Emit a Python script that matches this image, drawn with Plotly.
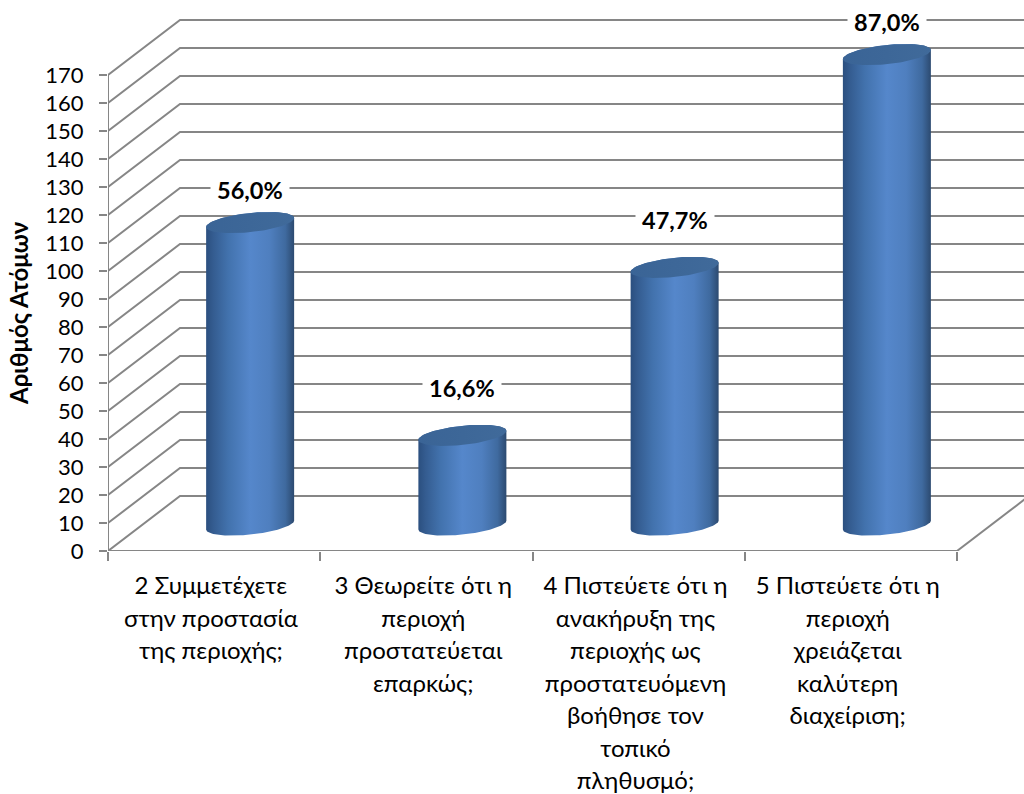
import numpy as np
import plotly.graph_objects as go

categories = [
    "2 Συμμετέχετε<br>στην προστασία<br>της περιοχής;",
    "3 Θεωρείτε ότι η<br>περιοχή<br>προστατεύεται<br>επαρκώς;",
    "4 Πιστεύετε ότι η<br>ανακήρυξη της<br>περιοχής ως<br>προστατευόμενη<br>βοήθησε τον<br>τοπικό<br>πληθυσμό;",
    "5 Πιστεύετε ότι η<br>περιοχή<br>χρειάζεται<br>καλύτερη<br>διαχείριση;",
]
values = [108, 32, 92, 168]
percent_labels = ["56,0%", "16,6%", "47,7%", "87,0%"]
y_ticks = list(range(0, 180, 10))
y_title = "Αριθμός Ατόμων"

W, H = 1024, 794
ML, MB = 108, 243
CAT_PX = 212.25
VAL_PX = 2.8
x_max = (W - ML) / CAT_PX
y_max = (H - MB) / VAL_PX
DX = 72 / CAT_PX
DY = 55 / VAL_PX
GRID = "#868686"
FONT = "Lato, 'Noto Sans', sans-serif"
LABEL_GAP = [33, 47, 47, 33]
CAT_SIZE = 24

BODY_SCALE = [[0, "#2b4f7f"], [0.08, "#345c90"], [0.25, "#4272ad"], [0.5, "#5587cb"],
              [0.72, "#4f7fbf"], [0.9, "#3f6a9f"], [1, "#2c4a70"]]
TOP_SCALE = [[0, "#3a6496"], [0.5, "#3d6798"], [1, "#406a9a"]]

fig = go.Figure()

def line(xs, ys, width=2):
    fig.add_trace(go.Scatter(x=xs, y=ys, mode="lines", line=dict(color=GRID, width=width),
                             hoverinfo="skip", showlegend=False))

for v in y_ticks:
    line([0, DX, x_max], [v, v + DY, v + DY])
line([0, 0], [0, y_ticks[-1]])
line([0, 4], [0, 0])
line([4, 4 + DX], [0, DY])

A = 44 / CAT_PX
B = 9.6 / VAL_PX
K = 4.5 / VAL_PX
BASE = 9.3
for i, v in enumerate(values):
    cx = i + 0.5 + DX / 2
    top = v + BASE
    tb = np.linspace(np.pi, 2 * np.pi, 50)
    tt = np.linspace(0, np.pi, 50)
    xb = cx + A * np.cos(tb)
    yb = BASE + K * np.cos(tb) + B * np.sin(tb)
    xt = cx + A * np.cos(tt)
    yt = top + K * np.cos(tt) + B * np.sin(tt)
    fig.add_trace(go.Scatter(x=np.r_[xb, xt], y=np.r_[yb, yt], mode="lines", fill="toself",
                             line=dict(width=0), hoverinfo="skip", showlegend=False,
                             fillgradient=dict(type="horizontal", colorscale=BODY_SCALE)))
    ta = np.linspace(0, 2 * np.pi, 100)
    fig.add_trace(go.Scatter(x=cx + A * np.cos(ta), y=top + K * np.cos(ta) + B * np.sin(ta),
                             mode="lines", fill="toself", line=dict(width=0),
                             hoverinfo="skip", showlegend=False,
                             fillgradient=dict(type="horizontal", colorscale=TOP_SCALE)))
    fig.add_annotation(x=cx, y=top + LABEL_GAP[i] / VAL_PX, text=f"<b>{percent_labels[i]}</b>", showarrow=False,
                       bgcolor="white", font=dict(family=FONT, size=23.5, color="black"),
                       xanchor="center", yanchor="middle", borderpad=6)

fig.add_annotation(xref="paper", yref="paper", x=-90 / (W - ML), y=(H - MB - 313) / (H - MB),
                   text=f"<b>{y_title}</b>", textangle=-90, showarrow=False,
                   font=dict(family=FONT, size=24, color="black"), xanchor="center", yanchor="middle")

def cat_text(c):
    span = f'<span style="font-size:{CAT_SIZE}px">'
    return span + c.replace("<br>", "</span><br>" + span) + "</span>"

fig.update_layout(
    width=W, height=H, margin=dict(l=ML, r=0, t=0, b=MB, pad=0, autoexpand=False),
    paper_bgcolor="white", plot_bgcolor="white", showlegend=False,
    xaxis=dict(range=[0, x_max], showgrid=False, zeroline=False, showline=False, automargin=False,
               tickmode="array", tickvals=[i + 0.485 for i in range(len(categories))],
               ticktext=[cat_text(c) for c in categories],
               tickfont=dict(family=FONT, size=25, color="black"), ticks="", tickangle=0,
               ticklabelstandoff=17,
               minor=dict(tickmode="array", tickvals=[0, 1, 2, 3, 4], ticks="outside", ticklen=9,
                          tickcolor=GRID, tickwidth=2, showgrid=False)),
    yaxis=dict(range=[0, y_max], showgrid=False, zeroline=False, showline=False, automargin=False,
               tickmode="array", tickvals=y_ticks, ticktext=[str(t) for t in y_ticks],
               ticks="outside", ticklen=8, tickcolor=GRID, tickwidth=2, ticklabelstandoff=11,
               tickfont=dict(family=FONT, size=22, color="black")),
)
fig.write_html("out.html", post_script="document.body.style.margin='0';",
               config=dict(displayModeBar=False))
